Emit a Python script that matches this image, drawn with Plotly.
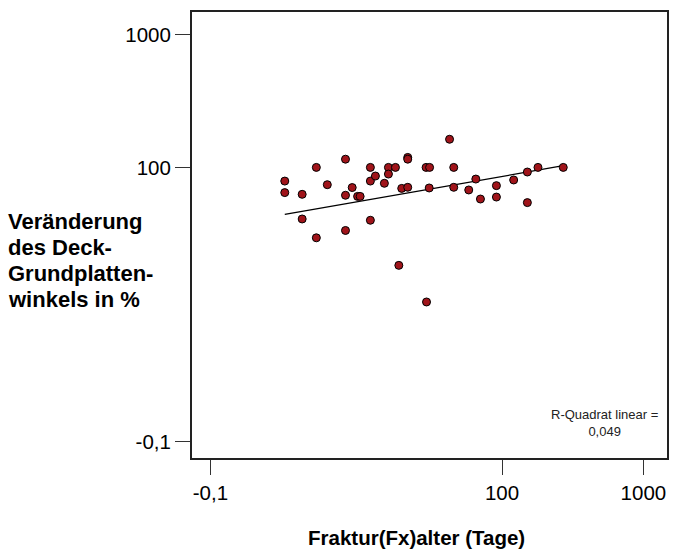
import numpy as np
import plotly.graph_objects as go

# Fracture age (days) and change of the endplate angle (%)
fraktur_alter = [2.9, 2.9, 3.85, 3.85, 4.85, 4.85, 5.8, 7.8, 7.8, 7.8, 8.7,
                 9.5, 9.9, 11.7, 11.7, 11.7, 12.7, 14.7, 15.7, 15.7, 17.6,
                 18.6, 19.5, 21.5, 21.5, 21.5, 29.0, 30.7, 29.2, 30.5, 42.5,
                 45.5, 45.5, 58.1, 65.2, 70.3, 91.2, 91.2, 120.8, 151.0,
                 151.0, 179.5, 271.0]
winkel_aenderung = [78.9, 64.6, 62.7, 40.9, 100.0, 29.5, 74.1, 115.3, 61.7,
                    33.5, 70.5, 60.5, 60.5, 100.0, 78.9, 40.0, 86.1, 75.9,
                    100.0, 89.1, 100.0, 18.3, 69.5, 118.9, 115.3, 70.8, 100.0,
                    100.0, 9.7, 70.0, 162.9, 100.0, 70.8, 67.6, 81.7, 57.8,
                    72.9, 59.8, 80.4, 92.3, 54.3, 100.0, 100.0]

# Fit line coefficients (log10 y = intercept + slope * log10 x)
fit_intercept = 1.56
fit_slope = 0.186

tick_vals = [0.863, 100, 1000]
tick_text = ["-0,1", "100", "1000"]
r2_text = "R-Quadrat linear =<br>0,049"
y_title_lines = ["Veränderung", "des Deck-", "Grundplatten-", "winkels in %"]
x_title = "Fraktur(Fx)alter (Tage)"

FONT = "Liberation Sans, Arial"

fit_x = np.array([min(fraktur_alter), max(fraktur_alter)])
fit_y = 10 ** (fit_intercept + fit_slope * np.log10(fit_x))

fig = go.Figure()
fig.add_trace(go.Scatter(
    x=fit_x, y=fit_y, mode="lines",
    line=dict(color="black", width=1.3), hoverinfo="skip"))
fig.add_trace(go.Scatter(
    x=fraktur_alter, y=winkel_aenderung, mode="markers",
    marker=dict(size=8, color="#A0141A", line=dict(color="black", width=1))))

axis_common = dict(
    type="log", tickvals=tick_vals, ticktext=tick_text,
    showgrid=False, zeroline=False, showline=True, mirror=True,
    linecolor="#222222", linewidth=2, ticks="outside", ticklen=15,
    tickcolor="#333333", tickwidth=1,
    tickfont=dict(family=FONT, size=20.5, color="black"))

# Plot area: 192..668 px horizontally, 10..457.7 px vertically
plot_top, plot_h = 10, 447.7


def py_to_paper(py):
    return 1 - (py - plot_top) / plot_h


annotations = []
for i, line in enumerate(y_title_lines):
    annotations.append(dict(
        text=line, xref="paper", yref="paper", x=-0.391,
        y=py_to_paper(220 + 26.2 * i),
        xanchor="left", yanchor="middle", align="left", showarrow=False,
        font=dict(family=FONT, size=22, color="black", weight="bold")))
annotations.append(dict(
    text=x_title, xref="paper", yref="paper", x=0.473, y=py_to_paper(538),
    xanchor="center", yanchor="middle", showarrow=False,
    font=dict(family=FONT, size=20.5, color="black", weight="bold")))
annotations.append(dict(
    text=r2_text, xref="paper", yref="paper", x=0.868, y=py_to_paper(423),
    xanchor="center", yanchor="middle", align="center", showarrow=False,
    font=dict(family=FONT, size=13, color="#222222")))

fig.update_layout(
    width=679, height=554,
    margin=dict(l=192, r=11, t=10, b=96),
    paper_bgcolor="white", plot_bgcolor="white",
    showlegend=False,
    xaxis=dict(range=[-0.194, 3.167], **axis_common),
    yaxis=dict(range=[-0.188, 3.170], **axis_common),
    annotations=annotations,
)

fig.write_html("out.html")
